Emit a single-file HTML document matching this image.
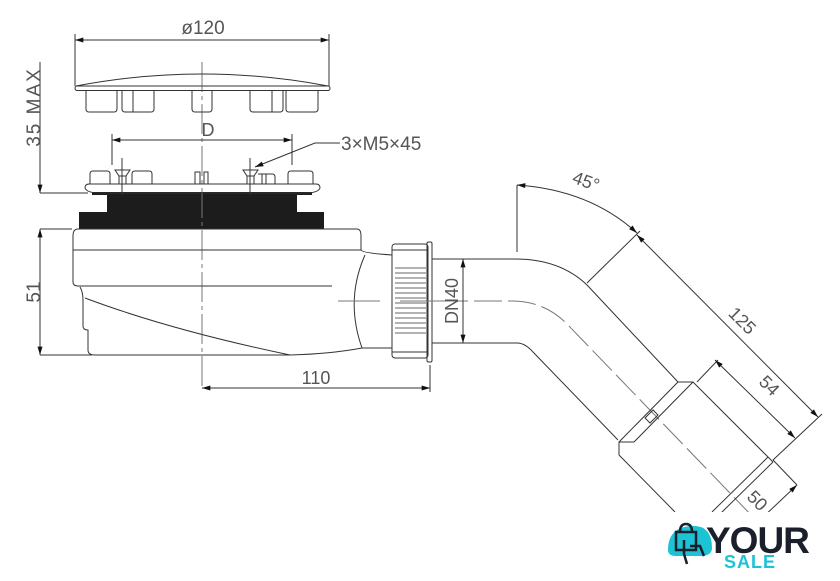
<!DOCTYPE html>
<html><head><meta charset="utf-8"><style>
html,body{margin:0;padding:0;background:#fff;width:840px;height:581px;overflow:hidden}
svg{display:block}
text{font-family:"Liberation Sans",sans-serif;fill:#555}
</style></head><body>
<svg width="840" height="581" viewBox="0 0 840 581" xmlns="http://www.w3.org/2000/svg">
<defs>
<marker id="a" viewBox="0 0 10 6" refX="10" refY="3" markerWidth="12" markerHeight="5" orient="auto-start-reverse" markerUnits="userSpaceOnUse"><path d="M0,0L10,3L0,6z" fill="#111"/></marker>
</defs>
<!-- gasket -->
<rect x="107" y="193" width="190" height="20" fill="#1c1c1c"/>
<rect x="79" y="212" width="245" height="17" fill="#1c1c1c"/>
<rect x="92" y="192" width="220" height="3" fill="#1c1c1c"/>
<g fill="none" stroke="#333" stroke-width="1">
<!-- center line -->
<line x1="202" y1="62" x2="202" y2="388" stroke="#777" stroke-dasharray="30,4,4,4"/>
<!-- Ø120 -->
<line x1="75" y1="40" x2="329" y2="40" marker-start="url(#a)" marker-end="url(#a)"/>
<line x1="75" y1="34" x2="75" y2="86"/><line x1="329" y1="34" x2="329" y2="86"/>
<!-- cap -->
<path d="M76,86 Q202,62 328,86"/>
<rect x="75" y="86" width="255" height="4.5" rx="2.2"/>
<path d="M86,90v19q0,3 3,3h25q3,0 3,-3v-19M122,90v19q0,3 3,3h26q3,0 3,-3v-19M133,90v22M192,90v19q0,3 3,3h14q3,0 3,-3v-19M250,90v19q0,3 3,3h27q3,0 3,-3v-19M272,90v22M286,90v19q0,3 3,3h26q3,0 3,-3v-19"/>
<!-- 35 MAX -->
<line x1="40" y1="62" x2="40" y2="193" marker-end="url(#a)"/>
<line x1="40" y1="193" x2="88" y2="193"/>
<!-- 51 -->
<line x1="40" y1="229" x2="40" y2="355" marker-start="url(#a)" marker-end="url(#a)"/>
<line x1="40" y1="229" x2="72" y2="229"/><line x1="40" y1="355" x2="92" y2="355"/>
<!-- D -->
<line x1="112" y1="140" x2="292" y2="140" marker-start="url(#a)" marker-end="url(#a)"/>
<line x1="112" y1="134" x2="112" y2="165"/><line x1="292" y1="134" x2="292" y2="165"/>
<line x1="122" y1="158" x2="122" y2="195"/><line x1="250" y1="158" x2="250" y2="195"/>
<!-- leader -->
<path d="M340,143H315L255,167" marker-end="url(#a)"/>
<!-- flange -->
<path d="M89,184H316Q320,184 320,188Q318,193 305,193H100Q87,193 85,188Q85,184 89,184Z"/>
<path d="M90,184v-10q0,-3 3,-3h14q3,0 3,3v10M132,184v-10q0,-3 3,-3h14q3,0 3,3v10M288,184v-10q0,-3 3,-3h19q3,0 3,3v10M195,184v-12h5v12M204,184v-12h4v12M115,170h15l-4,6h-7zM119,176v8M126,176v8M243,170h15l-4,6h-7zM247,176v8M254,176v8M258,174h14q3,0 3,3v7M262,174v10M266,174v10"/>
<!-- body -->
<path d="M78,229H357Q361,229 361,236V250H73V236Q73,229 78,229Z"/>
<path d="M73,250V282Q73,286 78,286H332"/>
<path d="M80,287Q83,292 83,300V326Q83,330 88,330V350Q88,355 95,355H290"/>
<path d="M85,298Q170,330 290,355"/>
<path d="M361,250Q362,253 392,255M365,255Q345,300 362,348H392M290,355Q330,354 362,348"/>
<line x1="338" y1="301" x2="380" y2="301" stroke="#777"/>
<!-- nut -->
<rect x="392" y="244" width="36" height="114" rx="3"/>
<line x1="392" y1="250" x2="428" y2="250"/><line x1="392" y1="352" x2="428" y2="352"/>
<rect x="427" y="242" width="5" height="120" rx="1.5"/>
<path d="M395,268h31M395,273h31M395,278h31M395,283h31M395,288h31M395,293h31M395,298h31M395,303h31M395,308h31M395,313h31M395,318h31M395,323h31M395,328h31M395,333h31" stroke-width="0.8"/>
<line x1="400" y1="301" x2="440" y2="301" stroke="#777"/>
<!-- pipe -->
<path d="M432,259H515Q560,259 587,285L678,382"/>
<path d="M432,343H517Q525,343 533,352L618,440"/>
<path d="M440,301H512Q545,301 568,325L780,545" stroke="#777" stroke-dasharray="28,6"/>
<!-- coupling -->
<path d="M678,382H693L768,457M678,382L619,442V455M693,382L634,442H619M619,455L675,512M768,457L712,512M773,462L720,514M768,457l5,5"/>
<path d="M645,418l8,-8l5,5l-8,8z"/>
<!-- DN40 -->
<line x1="463" y1="259" x2="463" y2="343" marker-start="url(#a)" marker-end="url(#a)"/>
<!-- 110 -->
<line x1="202" y1="388" x2="430" y2="388" marker-start="url(#a)" marker-end="url(#a)"/>
<line x1="430" y1="365" x2="430" y2="392"/>
<!-- 45° -->
<line x1="517" y1="185" x2="517" y2="252"/>
<path d="M517,185Q590,190 637,233" marker-start="url(#a)" marker-end="url(#a)"/>
<line x1="587" y1="283" x2="640" y2="231"/>
<!-- 125 -->
<line x1="637" y1="235" x2="818" y2="417" marker-start="url(#a)" marker-end="url(#a)"/>
<line x1="697" y1="382" x2="718" y2="360"/>
<line x1="715" y1="360" x2="795" y2="438" marker-start="url(#a)" marker-end="url(#a)"/>
<line x1="773" y1="460" x2="822" y2="414"/>
<line x1="773" y1="460" x2="797" y2="485"/>
<line x1="797" y1="485" x2="760" y2="520" marker-start="url(#a)"/>
</g>
<!-- text -->
<text x="203" y="34" font-size="19" text-anchor="middle">ø120</text>
<text transform="translate(40,107) rotate(-90)" font-size="19" text-anchor="middle" letter-spacing="2">35 MAX</text>
<text transform="translate(40,292) rotate(-90)" font-size="19" text-anchor="middle">51</text>
<text x="208" y="136" font-size="18" text-anchor="middle">D</text>
<text x="341" y="150" font-size="19">3×M5×45</text>
<text x="316" y="384" font-size="18" text-anchor="middle">110</text>
<text transform="translate(458,301) rotate(-90)" font-size="18" text-anchor="middle">DN40</text>
<text transform="translate(584,187) rotate(20)" font-size="18" text-anchor="middle">45°</text>
<text transform="translate(738,325) rotate(45)" font-size="18" text-anchor="middle">125</text>
<text transform="translate(765,390) rotate(45)" font-size="18" text-anchor="middle">54</text>
<text transform="translate(753,505) rotate(45)" font-size="18" text-anchor="middle">50</text>
<!-- logo -->
<rect x="660" y="512" width="142" height="69" fill="#fff"/>
<path d="M668,550Q668,528 690,526Q712,524 712,548Q712,556 700,556H676Q668,556 668,550Z" fill="#1cc3d4"/>
<path d="M676,532h20v18h-20zM680,532q0,-8 6,-8q6,0 6,8M684,540v14l3,10M690,546h10l4,10" fill="none" stroke="#1a1f2b" stroke-width="2.5"/>
<text x="706" y="553" font-size="37" font-weight="bold" style="fill:#1a1f2b;letter-spacing:-1px">YOUR</text>
<text x="724" y="568" font-size="18" font-weight="bold" style="fill:#1cc3d4;letter-spacing:1px">SALE</text>
</svg>
</body></html>
